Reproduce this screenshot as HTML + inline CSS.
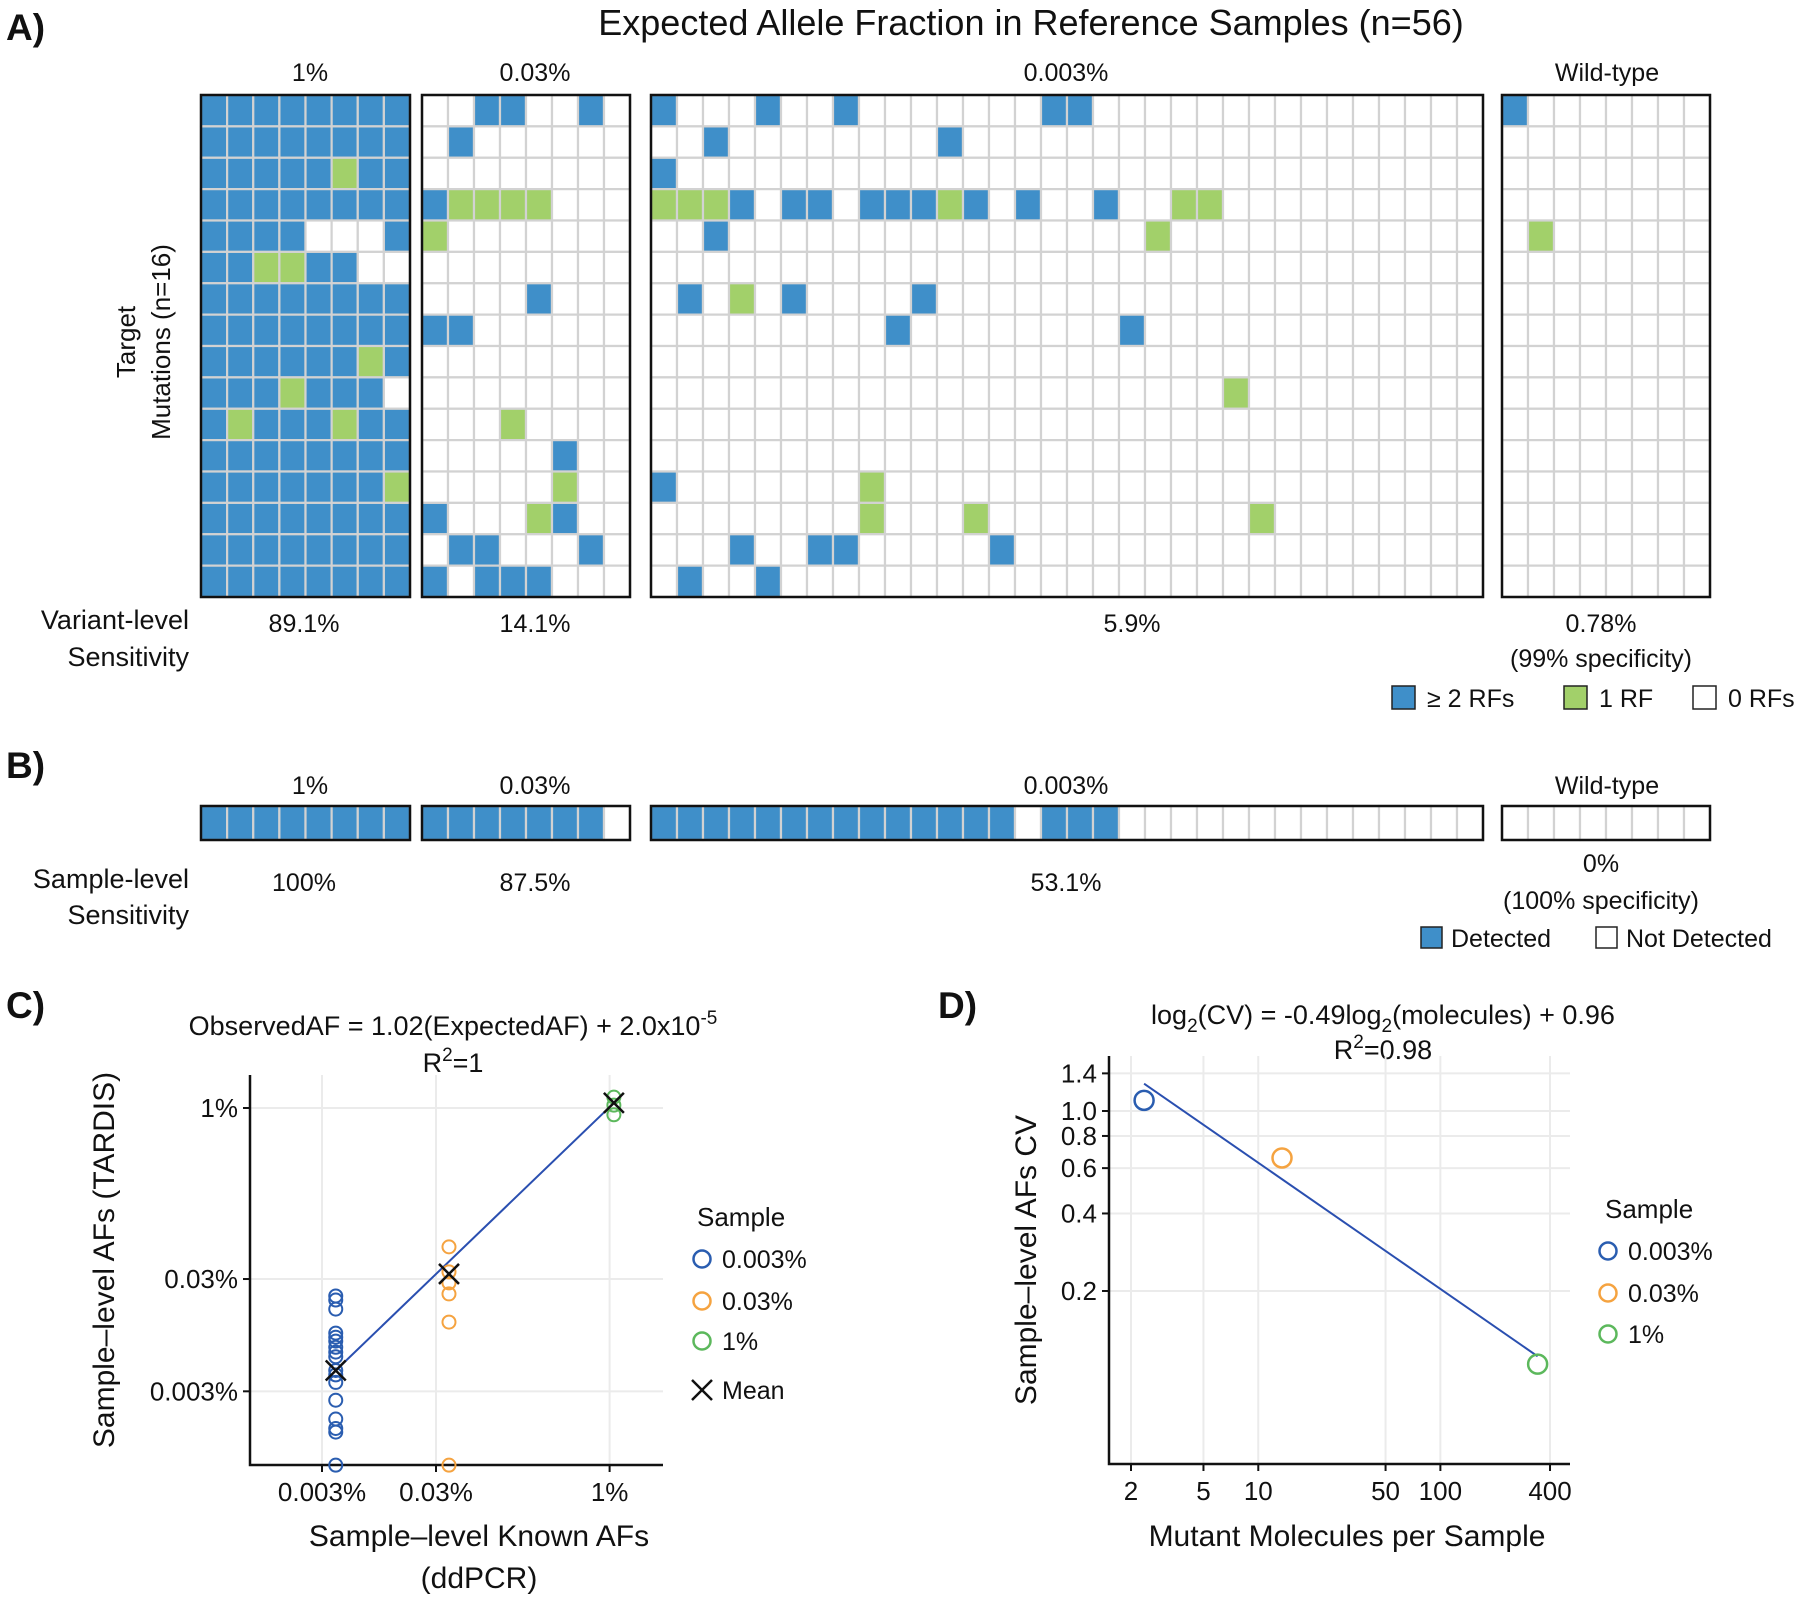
<!DOCTYPE html>
<html><head><meta charset="utf-8"><style>
html,body{margin:0;padding:0;background:#fff}
svg{display:block;font-family:"Liberation Sans",sans-serif}
</style></head><body>
<svg id="fig" xmlns="http://www.w3.org/2000/svg" width="1800" height="1600" viewBox="0 0 1800 1600">
<rect x="0" y="0" width="1800" height="1600" fill="#fff"/>
<g font-size="25" fill="#111">
<text x="6" y="40" font-size="37" font-weight="bold">A)</text>
<text x="1031" y="35" font-size="36" text-anchor="middle">Expected Allele Fraction in Reference Samples (n=56)</text>
<text x="310" y="81" text-anchor="middle">1%</text>
<text x="535" y="81" text-anchor="middle">0.03%</text>
<text x="1066" y="81" text-anchor="middle">0.003%</text>
<text x="1607" y="81" text-anchor="middle">Wild-type</text>
<text transform="translate(135,342) rotate(-90)" text-anchor="middle" font-size="26">Target</text>
<text transform="translate(170,342) rotate(-90)" text-anchor="middle" font-size="26">Mutations (n=16)</text>
<text x="189" y="629" text-anchor="end" font-size="27">Variant-level</text>
<text x="189" y="666" text-anchor="end" font-size="27">Sensitivity</text>
<text x="304" y="632" text-anchor="middle">89.1%</text>
<text x="535" y="632" text-anchor="middle">14.1%</text>
<text x="1132" y="632" text-anchor="middle">5.9%</text>
<text x="1601" y="632" text-anchor="middle">0.78%</text>
<text x="1601" y="667" text-anchor="middle">(99% specificity)</text>
<g>
<rect x="1392" y="686" width="23" height="23" fill="#3f8fc9" stroke="#222" stroke-width="1.5"/>
<text x="1427" y="707">≥ 2 RFs</text>
<rect x="1564" y="686" width="23" height="23" fill="#a2d06a" stroke="#222" stroke-width="1.5"/>
<text x="1599" y="707">1 RF</text>
<rect x="1693" y="686" width="23" height="23" fill="#fff" stroke="#222" stroke-width="1.5"/>
<text x="1728" y="707">0 RFs</text>
</g>

<text x="6" y="778" font-size="37" font-weight="bold">B)</text>
<text x="310" y="794" text-anchor="middle">1%</text>
<text x="535" y="794" text-anchor="middle">0.03%</text>
<text x="1066" y="794" text-anchor="middle">0.003%</text>
<text x="1607" y="794" text-anchor="middle">Wild-type</text>
<text x="189" y="888" text-anchor="end" font-size="27">Sample-level</text>
<text x="189" y="924" text-anchor="end" font-size="27">Sensitivity</text>
<text x="304" y="891" text-anchor="middle">100%</text>
<text x="535" y="891" text-anchor="middle">87.5%</text>
<text x="1066" y="891" text-anchor="middle">53.1%</text>
<text x="1601" y="872" text-anchor="middle">0%</text>
<text x="1601" y="909" text-anchor="middle">(100% specificity)</text>
<g>
<rect x="1421" y="927" width="21" height="21" fill="#3f8fc9" stroke="#222" stroke-width="1.5"/>
<text x="1451" y="947">Detected</text>
<rect x="1596" y="927" width="21" height="21" fill="#fff" stroke="#222" stroke-width="1.5"/>
<text x="1626" y="947">Not Detected</text>
</g>

<text x="6" y="1018" font-size="37" font-weight="bold">C)</text>
<text x="453" y="1035" text-anchor="middle" font-size="27">ObservedAF = 1.02(ExpectedAF) + 2.0x10<tspan dy="-11" font-size="19">-5</tspan></text>
<text x="453" y="1072" text-anchor="middle" font-size="27">R<tspan dy="-11" font-size="19">2</tspan><tspan dy="11">=1</tspan></text>
<text transform="translate(114,1260) rotate(-90)" text-anchor="middle" font-size="30">Sample–level AFs (TARDIS)</text>
<text x="479" y="1546" text-anchor="middle" font-size="30">Sample–level Known AFs</text>
<text x="479" y="1588" text-anchor="middle" font-size="30">(ddPCR)</text>
<g>
<text x="697" y="1226" font-size="26">Sample</text>
<circle cx="702" cy="1259" r="8.5" fill="none" stroke="#2a5db0" stroke-width="2.5"/>
<text x="722" y="1268" font-size="25">0.003%</text>
<circle cx="702" cy="1301" r="8.5" fill="none" stroke="#f5a340" stroke-width="2.5"/>
<text x="722" y="1310" font-size="25">0.03%</text>
<circle cx="702" cy="1341" r="8.5" fill="none" stroke="#5cb85c" stroke-width="2.5"/>
<text x="722" y="1350" font-size="25">1%</text>
<path d="M692 1380 L712 1400 M712 1380 L692 1400" stroke="#111" stroke-width="2.5"/>
<text x="722" y="1399" font-size="25">Mean</text>
</g>

<text x="938" y="1018" font-size="37" font-weight="bold">D)</text>
<text x="1383" y="1024" text-anchor="middle" font-size="27">log<tspan dy="8" font-size="19">2</tspan><tspan dy="-8">(CV) = -0.49log</tspan><tspan dy="8" font-size="19">2</tspan><tspan dy="-8">(molecules) + 0.96</tspan></text>
<text x="1383" y="1059" text-anchor="middle" font-size="27">R<tspan dy="-11" font-size="19">2</tspan><tspan dy="11">=0.98</tspan></text>
<text transform="translate(1036,1260) rotate(-90)" text-anchor="middle" font-size="30">Sample–level AFs CV</text>
<text x="1347" y="1546" text-anchor="middle" font-size="30">Mutant Molecules per Sample</text>
<g>
<text x="1605" y="1218" font-size="26">Sample</text>
<circle cx="1608" cy="1251" r="8.5" fill="none" stroke="#2a5db0" stroke-width="2.5"/>
<text x="1628" y="1260" font-size="25">0.003%</text>
<circle cx="1608" cy="1293" r="8.5" fill="none" stroke="#f5a340" stroke-width="2.5"/>
<text x="1628" y="1302" font-size="25">0.03%</text>
<circle cx="1608" cy="1334" r="8.5" fill="none" stroke="#5cb85c" stroke-width="2.5"/>
<text x="1628" y="1343" font-size="25">1%</text>
</g>
</g>
<g id="heat"></g>
<g id="chartC"></g>
<g id="chartD"></g>
</svg>
<script>
// ---- Panel A / B data (0 = 0 RFs, 1 = 1 RF, 2 = >=2 RFs) ----
const panelNames = ['1pct', '003pct', '0003pct', 'wildtype'];
const gridA1 = ["22222222","22222222","22222122","22222222","22220002","22112200","22222222","22222222","22222212","22212220","21222122","22222222","22222221","22222222","22222222","22222222"];
const gridA2 = ["00220020","02000000","00000000","21111000","10000000","00000000","00002000","22000000","00000000","00000000","00010000","00000200","00000100","20001200","02200020","20222000"];
const gridA3 = ["20002002000000022000000000000000","00200000000200000000000000000000","20000000000000000000000000000000","11120220222120200200110000000000","00200000000000000001000000000000","00000000000000000000000000000000","02010200002000000000000000000000","00000000020000000020000000000000","00000000000000000000000000000000","00000000000000000000001000000000","00000000000000000000000000000000","00000000000000000000000000000000","20000000100000000000000000000000","00000000100010000000000100000000","00020022000002000000000000000000","02002000000000000000000000000000"];
const gridA4 = ["20000000","00000000","00000000","00000000","01000000","00000000","00000000","00000000","00000000","00000000","00000000","00000000","00000000","00000000","00000000","00000000"];
// Panel B: 1 = detected
const gridB1 = ["11111111"];
const gridB2 = ["11111110"];
const gridB3 = ["11111111111111011100000000000000"];
const gridB4 = ["00000000"];

// ---- Panel C data (values in %) ----
const cGroups = ['0.003%', '0.03%', '1%'];
const cKnown = [0.00396, 0.039, 1.09];
const cObs0003 = [0.0212, 0.0195, 0.0162, 0.0099, 0.0091, 0.0084, 0.0074, 0.0067, 0.0061, 0.0046, 0.0042, 0.0036, 0.0025, 0.0017, 0.0014, 0.0013, 0.00066];
const cObs003 = [0.058, 0.0347, 0.0277, 0.0221, 0.0124, 0.00066];
const cObs1 = [1.25, 1.06, 0.87];
const cMeans = [0.0046, 0.0333, 1.11];
const cXTicks = [0.003, 0.03, 1];
const cXTickLabels = ['0.003%', '0.03%', '1%'];
const cYTicks = [1, 0.03, 0.003];
const cYTickLabels = ['1%', '0.03%', '0.003%'];

// ---- Panel D data ----
const dMolecules = [2.36, 13.5, 342];
const dCV = [1.10, 0.657, 0.104];
const dFit = [-0.49, 0.96];
const dXTicks = [2, 5, 10, 50, 100, 400];
const dYTicks = [1.4, 1.0, 0.8, 0.6, 0.4, 0.2];
const dYTickLabels = ['1.4', '1.0', '0.8', '0.6', '0.4', '0.2'];

const NS = 'http://www.w3.org/2000/svg';
function mk(tag, attrs, parent) {
  const e = document.createElementNS(NS, tag);
  for (const k in attrs) e.setAttribute(k, attrs[k]);
  parent.appendChild(e);
  return e;
}
const BLUE = '#3f8fc9', GREEN = '#a2d06a';
const panelX = [[201, 410], [422, 630], [651, 1483], [1502, 1710]];

function drawGrid(grid, px, y0, y1, parent, name, colors) {
  const nrow = grid.length, ncol = grid[0].length;
  const cw = (px[1] - px[0]) / ncol, ch = (y1 - y0) / nrow;
  const g = mk('g', {}, parent);
  
  
  for (let r = 0; r < nrow; r++) {
    for (let c = 0; c < ncol; c++) {
      const v = +grid[r][c];
      const rc = mk('rect', {x: px[0] + c * cw, y: y0 + r * ch, width: cw, height: ch, fill: colors[v], stroke: '#d2d2d2', 'stroke-width': 2.2}, g);
      
      
    }
  }
  const b = mk('rect', {x: px[0], y: y0, width: px[1] - px[0], height: y1 - y0, fill: 'none', stroke: '#111', 'stroke-width': 2.5}, g);
  
  
}
const heat = document.getElementById('heat');
const gridsA = [gridA1, gridA2, gridA3, gridA4];
const gridsB = [gridB1, gridB2, gridB3, gridB4];
for (let i = 0; i < 4; i++) {
  drawGrid(gridsA[i], panelX[i], 95, 597, heat, 'heatmap-a-' + panelNames[i], ['#fff', GREEN, BLUE]);
  drawGrid(gridsB[i], panelX[i], 806, 840, heat, 'bar-b-' + panelNames[i], ['#fff', BLUE]);
}

// ---- Chart C ----
const C = document.getElementById('chartC');
const xC = v => 322 + 114 * Math.log10(v / 0.003);
const yC = v => 1108 - 112.3 * Math.log10(v);
const cL = 250, cR = 663, cT = 1075, cB = 1465;
cXTicks.forEach((t, i) => {
  const l = mk('line', {x1: xC(t), x2: xC(t), y1: cT, y2: cB, stroke: '#ebebeb', 'stroke-width': 2}, C);
  
  
  const tk = mk('line', {x1: xC(t), x2: xC(t), y1: cB, y2: cB + 7, stroke: '#111', 'stroke-width': 2}, C);
  
  
  const tx = mk('text', {x: xC(t), y: cB + 36, 'text-anchor': 'middle', 'font-size': 26, fill: '#111'}, C);
  tx.textContent = cXTickLabels[i];
  
  
});
cYTicks.forEach((t, i) => {
  const l = mk('line', {x1: cL, x2: cR, y1: yC(t), y2: yC(t), stroke: '#ebebeb', 'stroke-width': 2}, C);
  
  
  const tk = mk('line', {x1: cL - 7, x2: cL, y1: yC(t), y2: yC(t), stroke: '#111', 'stroke-width': 2}, C);
  
  
  const tx = mk('text', {x: cL - 12, y: yC(t) + 9, 'text-anchor': 'end', 'font-size': 26, fill: '#111'}, C);
  tx.textContent = cYTickLabels[i];
  
  
});
const cAxis = mk('path', {d: `M${cL} ${cT} L${cL} ${cB} L${cR} ${cB}`, fill: 'none', stroke: '#111', 'stroke-width': 2.5}, C);


const cFit = mk('line', {x1: xC(cKnown[0]), y1: yC(cMeans[0]), x2: xC(cKnown[2]), y2: yC(cMeans[2]), stroke: '#2a4fb0', 'stroke-width': 2}, C);


const cSeries = [cObs0003, cObs003, cObs1];
const cCols = ['#2a5db0', '#f5a340', '#5cb85c'];
cSeries.forEach((arr, gi) => {
  arr.forEach(v => {
    const p = mk('circle', {cx: xC(cKnown[gi]), cy: yC(v), r: 6.5, fill: 'none', stroke: cCols[gi], 'stroke-width': 2}, C);
    
    
  });
});
cMeans.forEach((m, gi) => {
  const x = xC(cKnown[gi]), y = yC(m);
  const p = mk('path', {d: `M${x-10} ${y-10} L${x+10} ${y+10} M${x+10} ${y-10} L${x-10} ${y+10}`, stroke: '#111', 'stroke-width': 2.5}, C);
  
  
});

// ---- Chart D ----
const D = document.getElementById('chartD');
const xD = v => 1131 + 182.1 * Math.log10(v / 2);
const yD = v => 1111 - 257.5 * Math.log10(v);
const dL = 1109, dR = 1570, dT = 1056, dB = 1464;
dXTicks.forEach(t => {
  const l = mk('line', {x1: xD(t), x2: xD(t), y1: dT, y2: dB, stroke: '#ebebeb', 'stroke-width': 2}, D);
  
  
  const tk = mk('line', {x1: xD(t), x2: xD(t), y1: dB, y2: dB + 7, stroke: '#111', 'stroke-width': 2}, D);
  
  
  const tx = mk('text', {x: xD(t), y: dB + 36, 'text-anchor': 'middle', 'font-size': 26, fill: '#111'}, D);
  tx.textContent = String(t);
  
  
});
dYTicks.forEach((t, i) => {
  const l = mk('line', {x1: dL, x2: dR, y1: yD(t), y2: yD(t), stroke: '#ebebeb', 'stroke-width': 2}, D);
  
  
  const tk = mk('line', {x1: dL - 7, x2: dL, y1: yD(t), y2: yD(t), stroke: '#111', 'stroke-width': 2}, D);
  
  
  const tx = mk('text', {x: dL - 12, y: yD(t) + 9, 'text-anchor': 'end', 'font-size': 26, fill: '#111'}, D);
  tx.textContent = dYTickLabels[i];
  
  
});
const dAxis = mk('path', {d: `M${dL} ${dT} L${dL} ${dB} L${dR} ${dB}`, fill: 'none', stroke: '#111', 'stroke-width': 2.5}, D);


const fitY = m => Math.pow(2, dFit[0] * Math.log2(m) + dFit[1]);
const m0 = dMolecules[0], m1 = dMolecules[dMolecules.length - 1];
const dLine = mk('line', {x1: xD(m0), y1: yD(fitY(m0)), x2: xD(m1), y2: yD(fitY(m1)), stroke: '#2a4fb0', 'stroke-width': 2}, D);


dMolecules.forEach((m, i) => {
  const p = mk('circle', {cx: xD(m), cy: yD(dCV[i]), r: 9.5, fill: 'none', stroke: cCols[i], 'stroke-width': 2.5}, D);
  
  
});
</script>
</body></html>
